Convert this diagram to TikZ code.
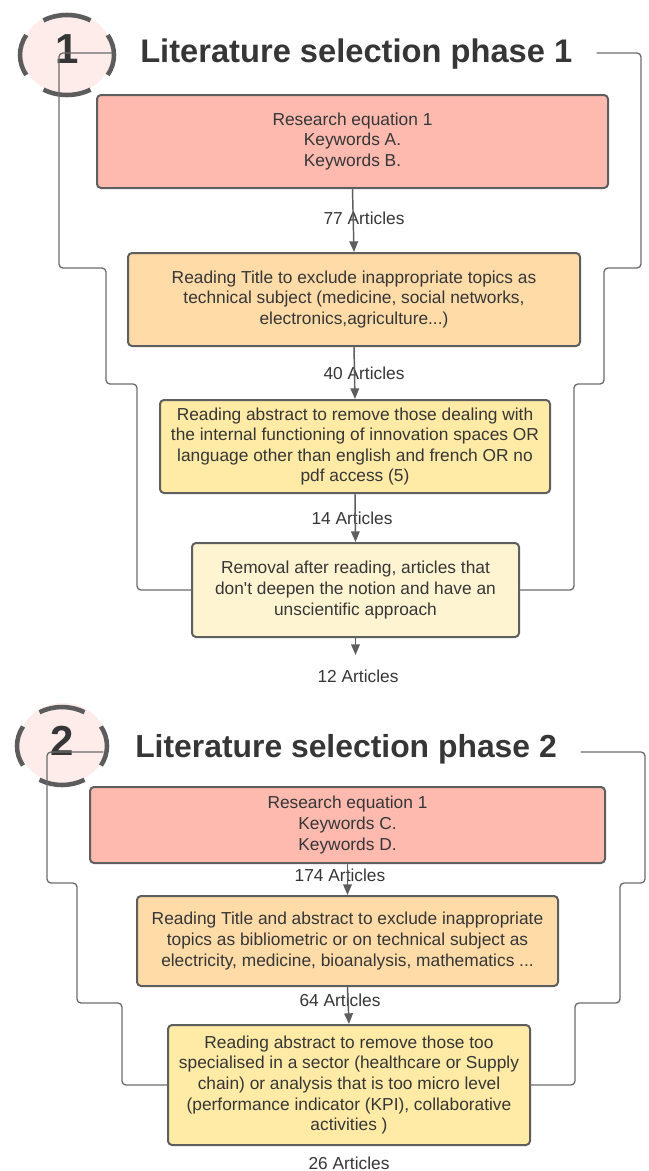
\documentclass[tikz,border=0pt]{standalone}
\usepackage{fontspec}
\setmainfont{Liberation Sans}
\usetikzlibrary{arrows.meta}
\definecolor{redbox}{HTML}{FFBAB0}
\definecolor{peachbox}{HTML}{FFDBA8}
\definecolor{yellowbox}{HTML}{FFEAA6}
\definecolor{creambox}{HTML}{FFF4D1}
\definecolor{ringfill}{HTML}{FDECEA}
\definecolor{ringgray}{HTML}{5C5C5C}
\definecolor{boxgray}{HTML}{5E5E5E}
\definecolor{linegray}{HTML}{6B6B6B}
\definecolor{txtgray}{HTML}{363636}
\begin{document}
\begin{tikzpicture}[x=0.75pt, y=-0.75pt, line join=round, line cap=round,
	font=\fontsize{13}{15.4}\selectfont, text=txtgray,
	box/.style={draw=boxgray, line width=1.5pt, rounded corners=3pt, align=center, inner sep=0pt},
	frame/.style={draw=linegray, line width=1pt, rounded corners=3pt},
	flow/.style={draw=boxgray, line width=1.1pt, -{Triangle[length=8pt,width=6.5pt]}},
	ring/.style={draw=ringgray, line width=3.4pt, line cap=butt},
	ttl/.style={anchor=base west, inner sep=0pt, font=\fontsize{24.5}{29}\selectfont\bfseries},
	num/.style={anchor=base, inner sep=0pt, font=\fontsize{31.5}{36}\selectfont\bfseries}]
	\useasboundingbox (0,0) rectangle (649,1171);

	% phase 1
	\fill[ringfill] (67,53) ellipse [x radius=45, y radius=41];
	\foreach \a in {0,90,180,270}
		\draw[ring] (67,55) ++({\a-30}:47 and 40) arc[start angle=\a-30, end angle=\a+30, x radius=47, y radius=40];
	\node[num] (n1) at (67,63) {1};
	\node[ttl] (t1) at (140,62) {Literature selection phase 1};

	\node[box, fill=redbox, minimum width=383.25pt, minimum height=69.75pt] (b11) at (352.5,141.5)
		{Research equation 1\\Keywords A.\\Keywords B.};
	\node[box, fill=peachbox, minimum width=339pt, minimum height=69.75pt] (b12) at (354,299.5)
		{Reading Title to exclude inappropriate topics as\\technical subject (medicine, social networks,\\electronics,agriculture...)};
	\node[box, fill=yellowbox, minimum width=292.5pt, minimum height=69.75pt] (b13) at (355,446.5)
		{Reading abstract to remove those dealing with\\the internal functioning of innovation spaces OR\\language other than english and french OR no\\pdf access (5)};
	\node[box, fill=creambox, minimum width=245.25pt, minimum height=70.5pt] (b14) at (355.5,590)
		{Removal after reading, articles that\\don\textquotesingle t deepen the notion and have an\\unscientific approach};

	\node (l11) at (364,218) {77 Articles};
	\node (l12) at (364,373) {40 Articles};
	\node (l13) at (352,518) {14 Articles};
	\node (l14) at (358,676) {12 Articles};
	\coordinate (e1) at (355.5,655);

	\draw[flow] (b11.south) -- (b12.north);
	\draw[flow] (b12.south) -- (b13.north);
	\draw[flow] (b13.south) -- (b14.north);
	\draw[flow] (b14.south) -- (e1);

	\coordinate (s1l) at (112,53);
	\coordinate (s1r) at (597,53);
	\draw[frame] (s1l) -- (59,53) -- (59,268) -- (106,268) -- (106,384) -- (137,384) -- (137,590) -- (b14.west);
	\draw[frame] (s1r) -- (641,53) -- (641,268) -- (604,268) -- (604,384) -- (574,384) -- (574,590) -- (b14.east);

	% phase 2
	\fill[ringfill] (63,743) ellipse [x radius=44, y radius=40];
	\foreach \a in {0,90,180,270}
		\draw[ring] (62,746) ++({\a-30}:45 and 39) arc[start angle=\a-30, end angle=\a+30, x radius=45, y radius=39];
	\node[num] (n2) at (62,755) {2};
	\node[ttl, font=\fontsize{23.9}{28}\selectfont\bfseries] (t2) at (135,757) {Literature selection phase 2};

	\node[box, fill=redbox, minimum width=386.25pt, minimum height=57pt] (b21) at (347.5,825)
		{Research equation 1\\Keywords C.\\Keywords D.};
	\node[box, fill=peachbox, minimum width=315.75pt, minimum height=67.5pt] (b22) at (347.5,941)
		{Reading Title and abstract to exclude inappropriate\\topics as bibliometric or on technical subject as\\electricity, medicine, bioanalysis, mathematics ...};
	\node[box, fill=yellowbox, minimum width=271.5pt, minimum height=90pt] (b23) at (349,1085)
		{Reading abstract to remove those too\\specialised in a sector (healthcare or Supply\\chain) or analysis that is too micro level\\(performance indicator (KPI), collaborative\\activities )};

	\node (l21) at (340,875) {174 Articles};
	\node (l22) at (340,1000) {64 Articles};
	\node (l23) at (349,1163) {26 Articles};

	\draw[flow] (b21.south) -- (b22.north);
	\draw[flow] (b22.south) -- (b23.north);

	\coordinate (s2l) at (103,752);
	\coordinate (s2r) at (581,752);
	\draw[frame] (s2l) -- (47,752) -- (47,883) -- (77,883) -- (77,1003) -- (122,1003) -- (122,1085) -- (b23.west);
	\draw[frame] (s2r) -- (645,752) -- (645,883) -- (620,883) -- (620,1003) -- (575,1003) -- (575,1085) -- (b23.east);
\end{tikzpicture}
\end{document}
